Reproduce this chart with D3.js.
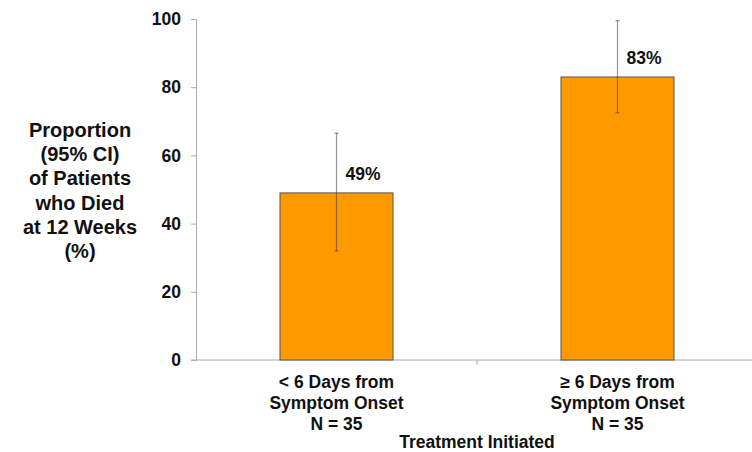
<!DOCTYPE html>
<html><head><meta charset="utf-8">
<script src="https://cdn.jsdelivr.net/npm/d3@7"></script>
<style>body{margin:0;background:#fff}text{font-family:"Liberation Sans",Arial,sans-serif;font-weight:bold;fill:#111}</style>
</head><body><svg id="c" width="752" height="452"></svg>
<script>
const categories = [["< 6 Days from","Symptom Onset","N = 35"],["\u2265 6 Days from","Symptom Onset","N = 35"]];
const values = [49, 83];
const ciLow = [32, 72.5];
const ciHigh = [66.5, 99.5];
const valueLabels = ["49%", "83%"];
const yTicks = [0, 20, 40, 60, 80, 100];
const yTitle = ["Proportion","(95% CI)","of Patients","who Died","at 12 Weeks","(%)"];
const xTitle = "Treatment Initiated";

const svg = d3.select("#c");
const x = d3.scaleBand().domain([0,1]).range([196, 758]).paddingInner(0).paddingOuter(0);
const y = d3.scaleLinear().domain([0,100]).range([360, 19]);
const bw = 113;

// axes
const gy = svg.append("g").attr("transform","translate(196,0)")
  .call(d3.axisLeft(y).tickValues(yTicks).tickSize(5).tickPadding(10));
gy.select(".domain").attr("stroke","#aaa");
gy.selectAll(".tick line").attr("stroke","#aaa");
gy.selectAll(".tick text").style("font-size","17.5px").attr("fill","#111");

svg.append("line").attr("x1",191).attr("x2",752).attr("y1",y(0)).attr("y2",y(0)).attr("stroke","#aaa");
svg.append("line").attr("x1",x(1)).attr("x2",x(1)).attr("y1",y(0)).attr("y2",y(0)+5).attr("stroke","#aaa");

// bars
svg.selectAll("rect.bar").data(values).enter().append("rect")
  .attr("x",(d,i)=>x(i)+x.bandwidth()/2-bw/2).attr("width",bw)
  .attr("y",d=>y(d)).attr("height",d=>y(0)-y(d))
  .attr("fill","#FF9900").attr("stroke","#555").attr("stroke-width",1);

// error bars
values.forEach((v,i)=>{
  const cx = x(i)+x.bandwidth()/2;
  svg.append("line").attr("x1",cx).attr("x2",cx).attr("y1",y(ciHigh[i])).attr("y2",y(ciLow[i]))
    .attr("stroke","rgba(60,60,60,0.55)").attr("stroke-width",1.2);
  [ciHigh[i],ciLow[i]].forEach(c=>{
    svg.append("line").attr("x1",cx-2).attr("x2",cx+2).attr("y1",y(c)).attr("y2",y(c))
      .attr("stroke","rgba(60,60,60,0.55)").attr("stroke-width",1.2);
  });
  svg.append("text").attr("x",cx+9).attr("y",y(v)-13).style("font-size","17.5px").text(valueLabels[i]);
});

// category labels
categories.forEach((lines,i)=>{
  const cx = x(i)+x.bandwidth()/2;
  lines.forEach((t,j)=>{
    svg.append("text").attr("x",cx).attr("y",388+j*21).attr("text-anchor","middle").style("font-size","17.5px").text(t);
  });
});
svg.append("text").attr("x",477).attr("y",448).attr("text-anchor","middle").style("font-size","17.5px").text(xTitle);

// y title
yTitle.forEach((t,j)=>{
  svg.append("text").attr("x",80).attr("y",137+j*24.2).attr("text-anchor","middle").style("font-size","20px").text(t);
});
</script></body></html>
